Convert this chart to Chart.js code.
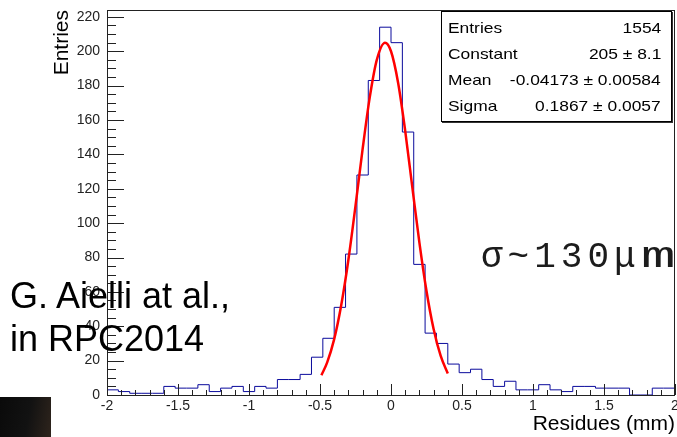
<!DOCTYPE html>
<html>
<head>
<meta charset="utf-8">
<script src="https://cdn.jsdelivr.net/npm/chart.js@4.4.1/dist/chart.umd.min.js"></script>
<style>
  html, body { margin: 0; padding: 0; background: #fff; }
  body { width: 677px; height: 437px; position: relative; overflow: hidden; font-family: "Liberation Sans", Arial, sans-serif; }
  #plot { position: absolute; left: 0; top: 0; }
  #stats { position: absolute; left: 441px; top: 11px; width: 231px; height: 111px; box-sizing: border-box;
           border: 1px solid #000; box-shadow: 1px 1px 0 #333; background: #fff;
           font-size: 14.5px; line-height: 26px; padding: 3px 10px 0 6px; color: #000; }
  #stats .row { display: flex; justify-content: space-between; white-space: nowrap; }
  #stats .row span { display: inline-block; transform: scaleX(1.2); }
  #stats .row span:first-child { transform-origin: left center; }
  #stats .row span:last-child { transform-origin: right center; }
  #sigma { position: absolute; left: 481px; top: 240px; font-family: "Liberation Mono", "DejaVu Sans Mono", monospace;
           font-size: 36px; line-height: 36px; letter-spacing: 5px; color: #1c1c1c; white-space: nowrap; }
  #sigma .wide { display: inline-block; transform: scaleX(1.6); transform-origin: left center; }
  #cite { position: absolute; left: 10px; top: 274px; font-size: 36px; line-height: 43px; color: #000; white-space: nowrap; }
  #photo { position: absolute; left: 0; top: 397px; width: 51px; height: 40px;
           background: linear-gradient(100deg, #0a0a0a 0%, #121212 55%, #2e241c 100%); }
</style>
</head>
<body>
<canvas id="plot" width="677" height="437"></canvas>
<div id="stats">
  <div class="row"><span>Entries</span><span>1554</span></div>
  <div class="row"><span>Constant</span><span>205 ± 8.1</span></div>
  <div class="row"><span>Mean</span><span>-0.04173 ± 0.00584</span></div>
  <div class="row"><span>Sigma</span><span>0.1867 ± 0.0057</span></div>
</div>
<div id="sigma">σ~130μ<span class="wide">m</span></div>
<div id="cite">G. Aielli at al.,<br>in RPC2014</div>
<div id="photo"></div>
<script>
// histogram: 50 bins from -2 to 2 (mm)
const counts = [3, 2, 1, 1, 1, 5, 4, 4, 6, 2,
                4, 5, 2, 5, 4, 9, 9, 12, 22, 33,
                51, 82, 128, 183, 214, 205, 153, 76, 36, 30,
                18, 13, 15, 9, 5, 8, 3, 3, 6, 3,
                2, 5, 5, 4, 4, 4, 0, 0, 4, 4];
const xMin = -2;
const xMax = 2;

// gaussian fit curve
const fitX = [-0.49, -0.45, -0.40, -0.35, -0.30, -0.25, -0.20, -0.15, -0.10, -0.042,
              0.00, 0.05, 0.10, 0.15, 0.20, 0.25, 0.30, 0.35, 0.40];
const fitY = [11.5, 18.8, 32.5, 52.5, 78.7, 110, 143, 173, 195, 205,
              200, 181.7, 153.7, 121, 88.7, 60.5, 38.4, 22.7, 12.5];

const xTicks = [-2, -1.5, -1, -0.5, 0, 0.5, 1, 1.5, 2];
const yTicks = [0, 20, 40, 60, 80, 100, 120, 140, 160, 180, 200, 220];

const binWidth = (xMax - xMin) / counts.length;
const histPoints = counts.map((c, i) => ({x: xMin + i * binWidth, y: c}));
histPoints.push({x: xMax, y: counts[counts.length - 1]});

// ROOT style frame with inward ticks
const rootFrame = {
    id: 'rootFrame',
    afterDatasetsDraw(chart) {
        const {ctx, chartArea: a, scales: {x, y}} = chart;
        ctx.save();
        ctx.strokeStyle = '#222';
        ctx.lineWidth = 1;
        ctx.beginPath();
        for (let i = -20; i <= 20; i++) {
            const px = Math.round(x.getPixelForValue(i / 10)) + 0.5;
            const len = (i % 5 === 0) ? 11 : 5;
            ctx.moveTo(px, a.bottom);
            ctx.lineTo(px, a.bottom - len);
        }
        for (let k = 0; k <= 44; k++) {
            const py = Math.round(y.getPixelForValue(k * 5)) + 0.5;
            const len = (k % 4 === 0) ? 17 : 9;
            ctx.moveTo(a.left, py);
            ctx.lineTo(a.left + len, py);
        }
        ctx.stroke();
        ctx.strokeRect(Math.round(a.left) + 0.5, Math.round(a.top) + 0.5,
                       Math.round(a.right - a.left) - 1, Math.round(a.bottom - a.top));
        ctx.restore();
    }
};

// fixed axis boxes, no label overflow padding
function fixX(s) { s.height = 42; s.paddingLeft = 0; s.paddingRight = 0; }
function fixY(s) { s.width = 107; s.paddingTop = 0; s.paddingBottom = 0; }

new Chart(document.getElementById('plot'), {
    type: 'line',
    data: {
        datasets: [
            {
                label: 'gaus',
                data: fitX.map((v, i) => ({x: v, y: fitY[i]})),
                borderColor: '#ff0000',
                borderWidth: 2.5,
                pointRadius: 0,
                cubicInterpolationMode: 'monotone',
                fill: false,
                order: 0
            },
            {
                label: 'Residues',
                data: histPoints,
                borderColor: '#0a0a9c',
                borderWidth: 1,
                pointRadius: 0,
                stepped: 'before',
                fill: false,
                order: 1
            }
        ]
    },
    options: {
        responsive: false,
        animation: false,
        layout: {autoPadding: false, padding: {top: 10, right: 2, left: 0, bottom: 0}},
        plugins: {legend: {display: false}, tooltip: {enabled: false}},
        scales: {
            x: {
                type: 'linear',
                min: xMin,
                max: xMax,
                grid: {display: false, drawTicks: false},
                border: {display: false},
                afterBuildTicks: s => { s.ticks = xTicks.map(v => ({value: v})); },
                afterFit: fixX,
                ticks: {
                    padding: 3,
                    maxRotation: 0,
                    autoSkip: false,
                    color: '#222',
                    font: {family: 'Liberation Sans', size: 14},
                    callback: v => String(v)
                },
                title: {
                    display: true,
                    text: 'Residues (mm)',
                    align: 'end',
                    color: '#000',
                    font: {family: 'Liberation Sans', size: 21},
                    padding: {top: 0, bottom: 0}
                }
            },
            y: {
                min: 0,
                max: 224,
                grid: {display: false, drawTicks: false},
                border: {display: false},
                afterBuildTicks: s => { s.ticks = yTicks.map(v => ({value: v})); },
                afterFit: fixY,
                ticks: {
                    padding: 7,
                    autoSkip: false,
                    color: '#222',
                    font: {family: 'Liberation Sans', size: 14},
                    callback: v => String(v)
                },
                title: {
                    display: true,
                    text: 'Entries',
                    align: 'end',
                    color: '#000',
                    font: {family: 'Liberation Sans', size: 21},
                    padding: {top: 50, bottom: 0}
                }
            }
        }
    },
    plugins: [rootFrame]
});
</script>
</body>
</html>
